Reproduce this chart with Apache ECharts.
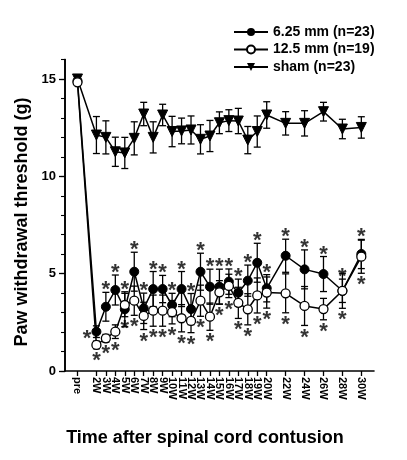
<!DOCTYPE html>
<html><head><meta charset="utf-8">
<script src="https://cdn.jsdelivr.net/npm/echarts@6/dist/echarts.min.js"></script>
<style>html,body{margin:0;padding:0;background:#fff}#c{width:407px;height:460px}</style>
</head><body><div id="c"></div>
<script>
const weeks = [0,2,3,4,5,6,7,8,9,10,11,12,13,14,15,16,17,18,19,20,22,24,26,28,30];
const mm625 = [14.9,2.02,3.3,4.16,3.17,5.1,3.22,4.21,4.21,3.39,4.21,3.18,5.1,4.33,4.33,4.59,4.02,4.64,5.56,4.25,5.92,5.22,4.98,4.12,6.01];
const sem625 = [0,0.3,0.74,0.77,0.9,1.0,0.78,0.9,0.7,0.6,0.9,0.8,0.95,0.9,0.9,0.65,0.7,0.8,1.0,0.7,0.85,1.0,0.9,0.6,0.75];
const mm125 = [14.83,1.34,1.68,2.02,3.39,3.61,2.83,3.1,3.1,3.02,2.71,2.57,3.61,2.79,4.04,4.37,3.5,3.17,3.88,4.03,3.99,3.34,3.18,4.12,5.87];
const sem125 = [0,0.2,0.2,0.35,0.6,0.75,0.7,0.8,0.8,0.6,0.7,0.6,0.8,0.7,0.6,0.6,0.8,0.8,0.9,0.8,1.0,1.0,0.55,0.9,0.85];
const sham = [15.0,12.12,12.0,11.26,11.2,11.95,13.2,12.0,13.15,12.3,12.33,12.38,11.9,12.07,12.75,12.86,12.84,11.86,12.3,13.15,12.72,12.72,13.32,12.43,12.51];
const semSham = [0,0.95,0.85,0.75,0.8,0.85,0.6,0.8,0.55,0.78,0.66,0.72,0.75,0.8,0.56,0.56,0.65,0.7,0.8,0.68,0.6,0.65,0.48,0.5,0.55];
const names = ['6.25 mm (n=23)','12.5 mm (n=19)','sham (n=23)'];

const FONT = '"Liberation Sans", Arial, sans-serif';
const chart = echarts.init(document.getElementById('c'));

function errData(vals, sems){
  return weeks.map((w,i)=>[w, vals[i]-sems[i], vals[i]+sems[i], sems[i]]);
}
function errSeries(vals, sems, z){
  return {
    type:'custom', z:z, silent:true,
    data: errData(vals, sems),
    renderItem: function(params, api){
      if (api.value(3) <= 0) return null;
      const lo = api.coord([api.value(0), api.value(1)]);
      const hi = api.coord([api.value(0), api.value(2)]);
      const hw = 3.5;
      const st = {stroke:'#000', lineWidth:1.3};
      return {type:'group', children:[
        {type:'line', shape:{x1:lo[0],y1:lo[1],x2:hi[0],y2:hi[1]}, style:st},
        {type:'line', shape:{x1:lo[0]-hw,y1:lo[1],x2:lo[0]+hw,y2:lo[1]}, style:st},
        {type:'line', shape:{x1:hi[0]-hw,y1:hi[1],x2:hi[0]+hw,y2:hi[1]}, style:st}
      ]};
    }
  };
}
function starSeries(vals, sems, up){
  const data = [];
  weeks.forEach((w,i)=>{
    if (w === 0) return;
    if (up && w === 2) {
      data.push({value:[w, vals[i]], label:{position:'left', distance:5, offset:[0,7]}});
    } else {
      data.push({value:[w, up ? vals[i]+sems[i] : vals[i]-sems[i]]});
    }
  });
  return {
    type:'scatter', symbolSize:0, silent:true, z:1, data:data,
    label:{show:true, formatter:'*', position: up ? 'top' : 'bottom',
      distance: up ? -3 : 1, offset:[0, up ? 6 : 0],
      fontSize:22, fontFamily:FONT, fontWeight:'bold', color:'#000'}
  };
}

chart.setOption({
  animation:false,
  grid:{left:65, right:33, top:59.5, bottom:89},
  legend:{
    left:228, top:20, orient:'vertical', itemGap:3.5, itemWidth:34, itemHeight:10,
    data:names,
    textStyle:{fontSize:14, fontWeight:'bold', fontFamily:FONT, color:'#000', lineHeight:14}
  },
  xAxis:{
    type:'value', min:-1.32, max:31.34,
    axisLine:{show:true, onZero:false, lineStyle:{color:'#000', width:1.6}},
    splitLine:{show:false},
    axisTick:{show:true, customValues:weeks, length:5, lineStyle:{color:'#000', width:1.3}},
    axisLabel:{show:true, customValues:weeks, rotate:-90, margin:6,
      formatter: v => v === 0 ? 'pre' : (v + 'W'),
      fontSize:11, fontWeight:'bold', fontFamily:FONT, color:'#000'}
  },
  yAxis:[
    {type:'value', min:0, max:16, interval:5,
     axisLine:{show:true, onZero:false, lineStyle:{color:'#000', width:1.6}},
     splitLine:{show:false},
     axisTick:{show:true, length:6, lineStyle:{color:'#000', width:1.3}},
     axisLabel:{show:true, margin:9, showMaxLabel:false,
       formatter: v => (v % 5 === 0 ? String(v) : ''),
       fontSize:13, fontWeight:'bold', fontFamily:FONT, color:'#000'}},
    {type:'value', min:0, max:16, interval:1, position:'left',
     axisLine:{show:true, onZero:false, lineStyle:{color:'#000', width:1.6}},
     splitLine:{show:false},
     axisTick:{show:true, length:4, lineStyle:{color:'#000', width:1.1}},
     axisLabel:{show:false}}
  ],
  graphic:[
    {type:'text', x:205, y:438, style:{text:'Time after spinal cord contusion',
      font:'bold 18px ' + FONT, fill:'#000', textAlign:'center', textVerticalAlign:'middle'}},
    {type:'text', x:22, y:222, rotation:Math.PI/2, style:{text:'Paw withdrawal threshold (g)',
      font:'bold 18px ' + FONT, fill:'#000', textAlign:'center', textVerticalAlign:'middle'}}
  ],
  series:[
    errSeries(sham, semSham, 2),
    errSeries(mm625, sem625, 2),
    errSeries(mm125, sem125, 2),
    starSeries(mm625, sem625, true),
    starSeries(mm125, sem125, false),
    {name:names[2], type:'line', z:3, data:weeks.map((w,i)=>[w, sham[i]]),
     symbol:'triangle', symbolRotate:180, symbolSize:10,
     lineStyle:{color:'#000', width:1.5}, itemStyle:{color:'#000', borderColor:'#000'}},
    {name:names[0], type:'line', z:4, data:weeks.map((w,i)=>[w, mm625[i]]),
     symbol:'circle', symbolSize:9,
     lineStyle:{color:'#000', width:1.5}, itemStyle:{color:'#000', borderColor:'#000'}},
    {name:names[1], type:'line', z:5, data:weeks.map((w,i)=>[w, mm125[i]]),
     symbol:'circle', symbolSize:9,
     lineStyle:{color:'#000', width:1.5}, itemStyle:{color:'#fff', borderColor:'#000', borderWidth:1.3}}
  ]
});
</script></body></html>
